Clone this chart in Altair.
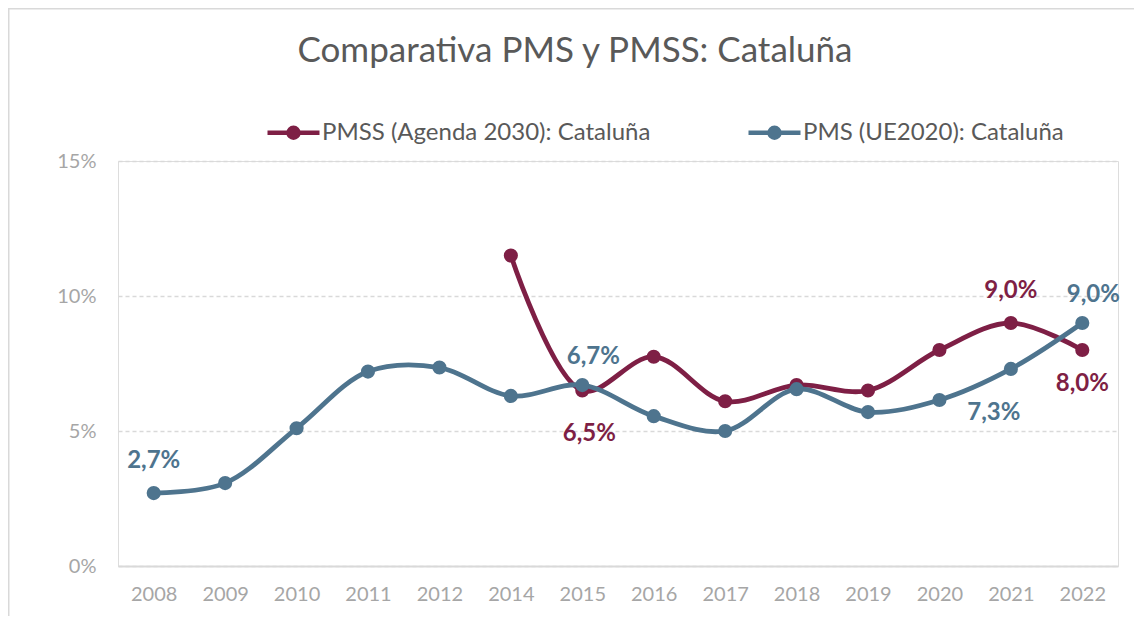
import altair as alt
import pandas as pd

years = ["2008", "2009", "2010", "2011", "2012", "2014", "2015",
         "2016", "2017", "2018", "2019", "2020", "2021", "2022"]
pms_values = [2.7, 3.07, 5.1, 7.2, 7.35, 6.3, 6.7, 5.55, 5.0, 6.55, 5.7, 6.15, 7.3, 9.0]
pmss_values = [None, None, None, None, None, 11.5, 6.5, 7.75, 6.1, 6.7, 6.5, 8.0, 9.0, 8.0]

series_pmss = "PMSS (Agenda 2030): Cataluña"
series_pms = "PMS (UE2020): Cataluña"
series_names = [series_pmss, series_pms]
series_colors = ["#7E1F45", "#4E748E"]
title_text = "Comparativa PMS y PMSS: Cataluña"

# labelled points: (series, year, placement)
labels = [
    (series_pms, "2008", "above"),
    (series_pms, "2015", "above-right"),
    (series_pms, "2021", "below-left"),
    (series_pms, "2022", "above-right"),
    (series_pmss, "2015", "below-right"),
    (series_pmss, "2021", "above"),
    (series_pmss, "2022", "below"),
]
# label offsets (style): placement -> (dx, dy)
placement_offsets = {
    "above": (0, -32),
    "above-right": (11, -28),
    "below": (0, 34),
    "below-right": (7, 43),
    "below-left": (-17, 44),
}

rows = []
for y, a, b in zip(years, pms_values, pmss_values):
    rows.append({"year": y, "series": series_pms, "value": a})
    if b is not None:
        rows.append({"year": y, "series": series_pmss, "value": b})
df = pd.DataFrame(rows)
df["label"] = df["value"].map(lambda v: f"{v:.1f}".replace(".", ",") + "%")
lab = {(s, y): p for s, y, p in labels}
df["place"] = [lab.get((s, y), "") for s, y in zip(df["series"], df["year"])]

FONT = "Lato"
W, H = 1000, 405

x_enc = alt.X("year:N", sort=years, title=None,
              scale=alt.Scale(paddingOuter=0.5),
              axis=alt.Axis(labelFont=FONT, labelFontSize=20, labelColor="#A6A6A6",
                            labelPadding=18, labelAngle=0, ticks=False,
                            domainColor="#D9D9D9", domainWidth=2, grid=False))
y_enc = alt.Y("value:Q", title=None,
              scale=alt.Scale(domain=[0, 15], nice=False),
              axis=alt.Axis(values=[0, 5, 10, 15], labelExpr="datum.value + '%'",
                            labelFont=FONT, labelFontSize=20, labelColor="#A6A6A6",
                            labelPadding=22, ticks=False, domain=False,
                            grid=True, gridColor="#D9D9D9", gridDash=[4, 3],
                            gridWidth=1.3))

sym_path = ("M-1,0L1,0"
            "M-0.19,0A0.19,0.19 0 1,0 0.19,0A0.19,0.19 0 1,0 -0.19,0"
            "M-0.06,0A0.06,0.06 0 1,0 0.06,0A0.06,0.06 0 1,0 -0.06,0")

color_scale = alt.Scale(domain=series_names, range=series_colors)
color_enc = alt.Color("series:N", scale=color_scale,
                      legend=alt.Legend(title=None, orient="none", legendX=147, legendY=-57,
                                        direction="horizontal", columns=2,
                                        symbolType=sym_path, symbolSize=2704,
                                        symbolStrokeWidth=4.5, labelFont=FONT,
                                        labelFontSize=24, labelColor="#595959",
                                        labelOffset=0, columnPadding=88,
                                        labelLimit=500))
color_nolegend = alt.Color("series:N", legend=None, scale=color_scale)

base = alt.Chart(df)


def series_layers(name):
    d = base.transform_filter(alt.datum.series == name)
    line = d.mark_line(interpolate="catmull-rom", strokeWidth=4.8).encode(
        x=x_enc, y=y_enc, color=color_enc)
    pts = d.mark_circle(size=200, opacity=1).encode(
        x=x_enc, y=y_enc, color=color_nolegend)
    return [line, pts]


def label_layer(place):
    dx, dy = placement_offsets[place]
    return base.transform_filter(alt.datum.place == place).mark_text(
        font=FONT, fontSize=24, fontWeight="bold", dx=dx, dy=dy, baseline="middle").encode(
        x=x_enc, y=y_enc, text="label:N", color=color_nolegend)


frame = alt.Chart(pd.DataFrame({"k": [0]})).mark_rect(
    fill=None, stroke="#D9D9D9", strokeWidth=1.5).encode(
    x=alt.value(-109.25), x2=alt.value(1040), y=alt.value(-152.25), y2=alt.value(480))

title = alt.Chart(pd.DataFrame({"t": [title_text]})).mark_text(
    font=FONT, fontSize=35, color="#595959", align="center", baseline="middle").encode(
    text="t:N", x=alt.value(457), y=alt.value(-110))

chart = alt.layer(
    frame,
    title,
    *series_layers(series_pmss),
    *series_layers(series_pms),
    *[label_layer(p) for p in placement_offsets],
).properties(
    width=W, height=H,
    autosize=alt.AutoSizeParams(type="none"),
    padding={"left": 110, "top": 153, "right": 16, "bottom": 50},
).configure_view(stroke=None).configure(background="white")

chart.save("out.html", embed_options={"renderer": "svg", "actions": False})
